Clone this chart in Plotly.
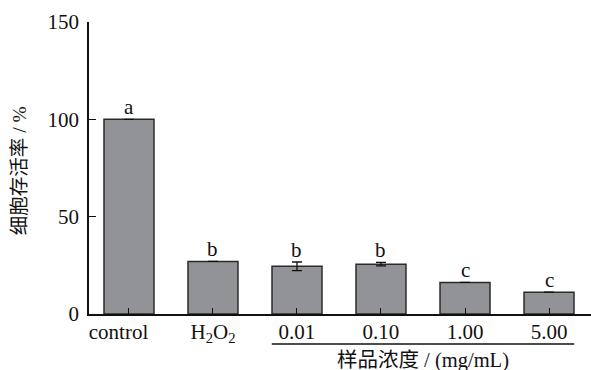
import plotly.graph_objects as go

categories = ["control\u00a0\u00a0\u00a0\u00a0", "H<sub>2</sub>O<sub>2</sub>", "0.01", "0.10", "1.00", "5.00"]
values = [100.0, 27.0, 24.5, 25.6, 16.2, 11.2]
errors = [0.0, 0.0, 2.2, 0.9, 0.0, 0.0]
letters = ["a", "b", "b", "b", "c", "c"]
y_ticks = [0, 50, 100, 150]

FONT = "Liberation Serif, Times New Roman, Noto Sans CJK SC, serif"
xs = list(range(len(categories)))

fig = go.Figure()
fig.add_trace(go.Bar(
    x=xs, y=values,
    marker=dict(color="#929396", line=dict(color="#2b2b2b", width=1.5)),
    width=0.595,
    error_y=dict(type="data", array=errors, visible=True, color="#111111",
                 thickness=1.3, width=5),
    showlegend=False,
))

for i, (v, e, t) in enumerate(zip(values, errors, letters)):
    fig.add_annotation(x=i, y=v + e, text=t, showarrow=False, yanchor="bottom",
                       yshift=-2, font=dict(family=FONT, size=21, color="#111"))

fig.add_shape(type="line", xref="x", yref="paper", x0=1.70, x1=5.30,
              y0=-0.103, y1=-0.103, line=dict(color="#111", width=1.5))
fig.add_annotation(x=3.5, xref="x", y=-0.16, yref="paper", yanchor="middle",
                   text="样品浓度 / (mg/mL)", showarrow=False,
                   font=dict(family=FONT, size=20.5, color="#111"))
fig.add_annotation(x=-0.137, xref="paper", xanchor="center", y=0.49, yref="paper",
                   text="细胞存活率 / %", textangle=-90, showarrow=False,
                   font=dict(family=FONT, size=19.5, color="#111"))

fig.update_layout(
    width=591, height=370,
    margin=dict(l=89, r=0, t=22, b=56),
    plot_bgcolor="white", paper_bgcolor="white",
    font=dict(family=FONT, size=21, color="#111"),
    xaxis=dict(range=[-0.476, 5.5], tickmode="array", tickvals=xs, ticktext=categories,
               showline=True, linecolor="#111", linewidth=1.5, ticks="inside",
               ticklen=6, tickwidth=1.3, tickcolor="#111", showgrid=False,
               zeroline=False, tickfont=dict(family=FONT, size=21),
               ticklabelstandoff=-2),
    yaxis=dict(range=[0, 150], tickmode="array", tickvals=y_ticks,
               showline=True, linecolor="#111", linewidth=1.5, ticks="inside",
               ticklen=7, tickwidth=1.3, tickcolor="#111", showgrid=False,
               zeroline=False, tickfont=dict(family=FONT, size=21),
               ticklabelstandoff=4),
)

fig.write_html("out.html")
